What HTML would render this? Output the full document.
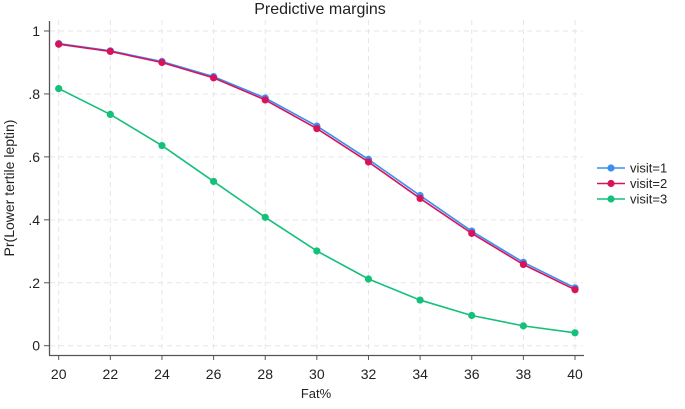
<!DOCTYPE html>
<html><head><meta charset="utf-8"><style>
body{margin:0;background:#fff;font-family:"Liberation Sans",Arial,sans-serif}
svg text{font-family:"Liberation Sans",Arial,sans-serif;fill:#222}
</style></head><body>
<svg id="c" width="685" height="404"></svg>
<script>
const xCats=[20,22,24,26,28,30,32,34,36,38,40];
const visit1=[.960,.937,.903,.855,.787,.698,.592,.477,.364,.265,.184];
const visit2=[.958,.935,.900,.851,.781,.690,.584,.468,.357,.258,.178];
const visit3=[.817,.735,.636,.522,.408,.301,.212,.145,.096,.063,.041];
const yTicks=[0,.2,.4,.6,.8,1];
const yLabels=["0",".2",".4",".6",".8","1"];
const seriesNames=["visit=1","visit=2","visit=3"];
const colors=["#3a8ff0","#d8135a","#14c07a"];
const NS="http://www.w3.org/2000/svg";
const svg=document.getElementById('c');
const X=v=>58.7+(v-20)*(575-58.7)/20;
const Y=v=>345.7-v*(345.7-31);
function mk(t,a,p){const e=document.createElementNS(NS,t);for(const k in a)e.setAttribute(k,a[k]);(p||svg).appendChild(e);return e;}
// grid
xCats.forEach(v=>{const l=mk('line',{x1:X(v),x2:X(v),y1:20,y2:352,stroke:'#e6e6e6','stroke-dasharray':'5,4'});

});
yTicks.forEach(v=>{const l=mk('line',{x1:50,x2:583,y1:Y(v),y2:Y(v),stroke:'#e6e6e6','stroke-dasharray':'5,4'});

});
// axes
const ya=mk('line',{x1:49.5,x2:49.5,y1:21,y2:355.5,stroke:'#555','stroke-width':1.3});


const xa=mk('line',{x1:49,x2:584,y1:355.5,y2:355.5,stroke:'#555','stroke-width':1.3});


yTicks.forEach((v,i)=>{mk('line',{x1:44,x2:49,y1:Y(v),y2:Y(v),stroke:'#555'});
const t=mk('text',{x:40,y:Y(v)+5,'text-anchor':'end','font-size':14});t.textContent=yLabels[i];

});
xCats.forEach(v=>{mk('line',{x1:X(v),x2:X(v),y1:355,y2:360,stroke:'#555'});
const t=mk('text',{x:X(v),y:379,'text-anchor':'middle','font-size':14});t.textContent=v;

});
const xt=mk('text',{x:316,y:398,'text-anchor':'middle','font-size':13});xt.textContent='Fat%';


const yt=mk('text',{x:14,y:188,'text-anchor':'middle','font-size':14,transform:'rotate(-90 14 188)'});yt.textContent='Pr(Lower tertile leptin)';


const ti=mk('text',{x:320,y:14,'text-anchor':'middle','font-size':16});ti.textContent='Predictive margins';


[visit1,visit2,visit3].forEach((s,k)=>{
const g=mk('g',{});


mk('polyline',{points:s.map((v,i)=>X(xCats[i])+','+Y(v)).join(' '),fill:'none',stroke:colors[k],'stroke-width':1.6},g);
s.forEach((v,i)=>{const c=mk('circle',{cx:X(xCats[i]),cy:Y(v),r:3.6,fill:colors[k]},g);

});
const ly=168+k*15.5;
const lg=mk('g',{});


mk('line',{x1:597,x2:625,y1:ly,y2:ly,stroke:colors[k],'stroke-width':1.6},lg);
mk('circle',{cx:611,cy:ly,r:3.6,fill:colors[k]},lg);
const t=mk('text',{x:630,y:ly+4.5,'font-size':13},lg);t.textContent=seriesNames[k];
});
</script>
</body></html>
